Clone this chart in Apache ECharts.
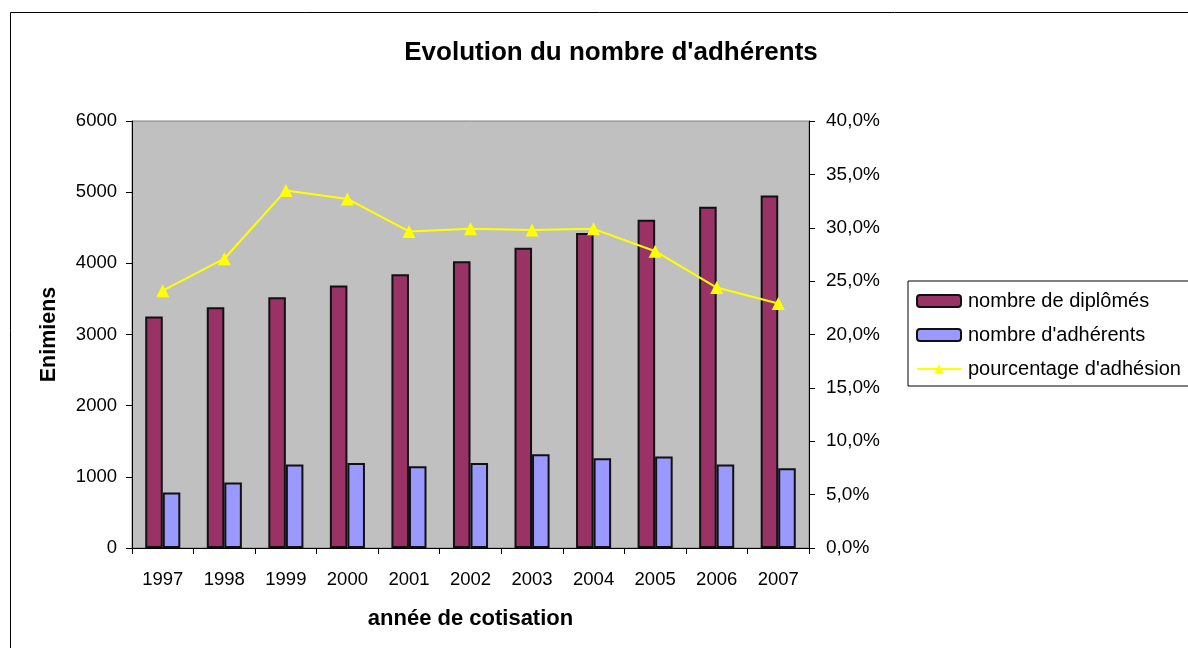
<!DOCTYPE html>
<html>
<head>
<meta charset="utf-8">
<script src="https://cdn.jsdelivr.net/npm/echarts@6/dist/echarts.min.js"></script>
<style>
  html, body { margin: 0; padding: 0; background: #fff; }
  #chart { width: 1188px; height: 648px; }
</style>
</head>
<body>
<div id="chart"></div>
<script>
// values
const years = ['1997', '1998', '1999', '2000', '2001', '2002', '2003', '2004', '2005', '2006', '2007'];
const diplomes = [3252, 3383, 3523, 3687, 3846, 4028, 4220, 4426, 4612, 4795, 4953];
const adherents = [781, 921, 1173, 1196, 1150, 1196, 1318, 1262, 1285, 1173, 1121];
const pourcentage = [24.1, 27.1, 33.5, 32.7, 29.65, 29.9, 29.8, 29.9, 27.8, 24.4, 22.9];

const chart = echarts.init(document.getElementById('chart'));
const font = 'Liberation Sans, Arial, sans-serif';

const option = {
  backgroundColor: '#fff',
  animation: false,
  textStyle: { fontFamily: font },
  title: {
    text: "Evolution du nombre d'adhérents",
    left: 606,
    textAlign: 'center',
    top: 35,
    textStyle: { fontSize: 26, fontWeight: 'bold', color: '#000', fontFamily: font }
  },
  grid: {
    left: 132, right: 379, top: 121, bottom: 100,
    show: true, backgroundColor: '#c0c0c0', borderColor: '#808080', borderWidth: 1
  },
  legend: {
    orient: 'vertical',
    left: 908, top: 281,
    padding: [10, 40, 7, 8],
    itemGap: 14,
    itemWidth: 44, itemHeight: 12,
    borderColor: '#000', borderWidth: 1,
    textStyle: { fontSize: 20, color: '#000', fontFamily: font, padding: [0, 0, 0, 2] },
    data: ['nombre de diplômés', "nombre d'adhérents", "pourcentage d'adhésion"]
  },
  xAxis: {
    type: 'category',
    data: years,
    name: 'année de cotisation',
    nameLocation: 'middle',
    nameGap: 60,
    nameTextStyle: { fontSize: 22, fontWeight: 'bold', color: '#000', fontFamily: font },
    axisLine: { lineStyle: { color: '#000' } },
    axisTick: { show: true, alignWithLabel: false, length: 6, lineStyle: { color: '#000' } },
    axisLabel: { fontSize: 18.5, color: '#000', margin: 22, fontFamily: font },
    splitLine: { show: false }
  },
  yAxis: [
    {
      type: 'value',
      min: 0, max: 6000, interval: 1000,
      name: 'Enimiens',
      nameLocation: 'middle',
      nameGap: 72,
      nameRotate: 90,
      nameTextStyle: { fontSize: 21.5, fontWeight: 'bold', color: '#000', fontFamily: font },
      axisLine: { show: true, lineStyle: { color: '#000' } },
      axisTick: { show: true, length: 6, lineStyle: { color: '#000' } },
      axisLabel: { fontSize: 18.5, color: '#000', margin: 15, fontFamily: font, formatter: v => String(v) },
      splitLine: { show: false }
    },
    {
      type: 'value',
      min: 0, max: 40, interval: 5,
      position: 'right',
      axisLine: { show: true, lineStyle: { color: '#000' } },
      axisTick: { show: true, length: 6, lineStyle: { color: '#000' } },
      axisLabel: {
        fontSize: 19, color: '#000', margin: 17, fontFamily: font,
        formatter: v => v.toFixed(1).replace('.', ',') + '%'
      },
      splitLine: { show: false }
    }
  ],
  series: [
    {
      name: 'nombre de diplômés',
      type: 'bar',
      data: diplomes,
      barGap: '0%',
      barCategoryGap: '43%',
      itemStyle: { color: '#993366', borderColor: '#111', borderWidth: 2 }
    },
    {
      name: "nombre d'adhérents",
      type: 'bar',
      data: adherents,
      barGap: '0%',
      barCategoryGap: '43%',
      itemStyle: { color: '#9999ff', borderColor: '#111', borderWidth: 2 }
    },
    {
      name: "pourcentage d'adhésion",
      type: 'line',
      yAxisIndex: 1,
      data: pourcentage,
      symbol: 'triangle',
      symbolSize: 13,
      lineStyle: { color: '#ffff00', width: 2 },
      itemStyle: { color: '#ffff00' }
    }
  ],
  graphic: [
    {
      type: 'rect',
      silent: true,
      z: -1,
      shape: { x: 10.5, y: 12.5, width: 1300, height: 800 },
      style: { fill: 'none', stroke: '#000', lineWidth: 1 }
    }
  ]
};

chart.setOption(option);
</script>
</body>
</html>
